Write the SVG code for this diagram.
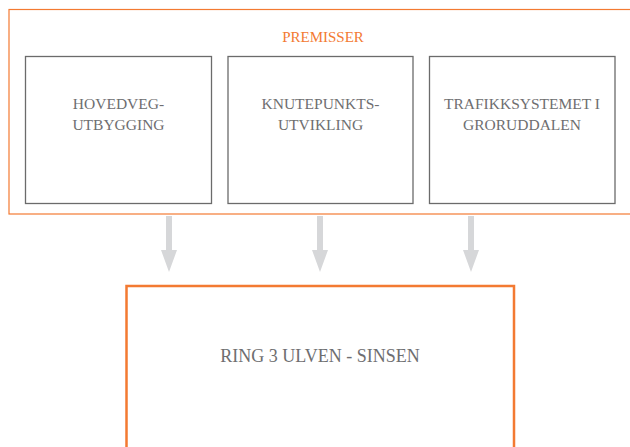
<svg xmlns="http://www.w3.org/2000/svg" width="630" height="447" viewBox="0 0 630 447">
  <style>
    .frame { fill: #ffffff; stroke: #F37A32; stroke-width: 1.2; }
    .main { fill: #ffffff; stroke: #F37A32; stroke-width: 2.5; }
    .box { fill: #ffffff; stroke: #6b6b6b; stroke-width: 1.3; }
    .lbl { font-family: "Liberation Serif", "DejaVu Serif", serif; fill: #6e6e70; text-anchor: middle; }
    .title { font-family: "Liberation Serif", "DejaVu Serif", serif; fill: #F37A32; text-anchor: middle; font-size: 15px; }
    .arrow { fill: #D6D7D9; }
  </style>
  <rect width="630" height="447" fill="#ffffff"/>

  <g id="premisser">
    <rect class="frame" x="9" y="9.5" width="640" height="204.5"/>
    <text class="title" x="323" y="42">PREMISSER</text>
  </g>

  <g id="hovedveg">
    <rect class="box" x="25.5" y="56.5" width="186" height="147"/>
    <text class="lbl" font-size="15.5" x="118.5" y="109">HOVEDVEG-</text>
    <text class="lbl" font-size="15.5" x="118.5" y="130">UTBYGGING</text>
  </g>

  <g id="knutepunkt">
    <rect class="box" x="228" y="56.5" width="185" height="147"/>
    <text class="lbl" font-size="15.5" x="320.5" y="109">KNUTEPUNKTS-</text>
    <text class="lbl" font-size="15.5" x="320.5" y="130">UTVIKLING</text>
  </g>

  <g id="trafikksystemet">
    <rect class="box" x="429.5" y="56.5" width="185.5" height="147"/>
    <text class="lbl" font-size="15.5" x="522" y="109">TRAFIKKSYSTEMET I</text>
    <text class="lbl" font-size="15.5" x="522" y="130">GRORUDDALEN</text>
  </g>

  <g id="ring3">
    <rect class="main" x="126.5" y="286" width="387.5" height="180"/>
    <text class="lbl" font-size="18" x="320" y="362">RING 3 ULVEN - SINSEN</text>
  </g>

  <g id="connectors">
    <path class="arrow" d="M166 216 H172 V250 H177 L169 272 L161 250 H166 Z"/>
    <path class="arrow" d="M317 216 H323 V250 H328 L320 272 L312 250 H317 Z"/>
    <path class="arrow" d="M468 216 H474 V250 H479 L471 272 L463 250 H468 Z"/>
  </g>
</svg>
